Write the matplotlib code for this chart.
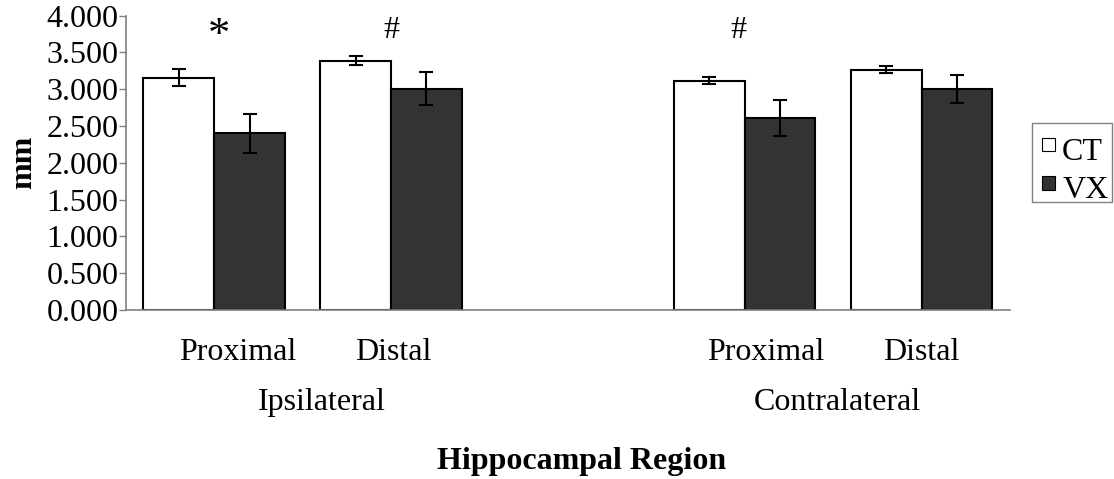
import matplotlib
matplotlib.use("Agg")
import matplotlib.pyplot as plt
from matplotlib.patches import Patch, Rectangle
from matplotlib.legend_handler import HandlerPatch
from matplotlib.transforms import blended_transform_factory
import numpy as np

# Hippocampal thickness (mm), mean and error per region
regions = ["Proximal", "Distal", "Proximal", "Distal"]
sides = ["Ipsilateral", "Contralateral"]
ct_mean = [3.16, 3.39, 3.115, 3.265]
vx_mean = [2.40, 3.01, 2.61, 3.01]
ct_err = [0.115, 0.06, 0.05, 0.05]
vx_err = [0.27, 0.22, 0.25, 0.19]
sig_marks = ["*", "#", "#", ""]
series_names = ["CT", "VX"]
yticks = [0.0, 0.5, 1.0, 1.5, 2.0, 2.5, 3.0, 3.5, 4.0]

plt.rcParams["font.family"] = ["Liberation Serif", "DejaVu Serif"]
FS = 23
W, H = 1114, 479

fig = plt.figure(figsize=(W / 100, H / 100), dpi=100)
ax = fig.add_axes([125.7 / W, 1 - 310 / H, (1010 - 125.7) / W, (310 - 15.7) / H])

# group slots: two per side, with an empty slot between the sides
x = np.array([0, 1, 3, 4], dtype=float)
w = 0.4
ax.bar(x - w / 2, ct_mean, w, color="white", edgecolor="black", linewidth=1.5, zorder=2)
ax.bar(x + w / 2, vx_mean, w, color="#333333", edgecolor="black", linewidth=1.5, zorder=2)
ekw = dict(fmt="none", ecolor="black", elinewidth=1.5, capsize=5, capthick=1.5, zorder=3)
ax.errorbar(x - w / 2, ct_mean, yerr=ct_err, **ekw)
ax.errorbar(x + w / 2, vx_mean, yerr=vx_err, **ekw)

ax.set_xlim(-0.5, 4.5)
ax.set_ylim(0, 4.0)
ax.set_yticks(yticks)
ax.set_yticklabels([f"{v:.3f}" for v in yticks], fontsize=FS)
ax.tick_params(axis="y", direction="out", length=5.3, width=1.0, color="#808080", pad=0)
ax.tick_params(axis="x", length=0, labelbottom=False)
for s in ("top", "right"):
    ax.spines[s].set_visible(False)
for s in ("left", "bottom"):
    ax.spines[s].set_color("#808080")
    ax.spines[s].set_linewidth(1.2)

ax.set_ylabel("mm", fontsize=FS, fontweight="bold", labelpad=6.2)

# significance markers above each group
mark_dx = [0.03, 0.0, -0.038, 0.0]
for xi, dx, m in zip(x, mark_dx, sig_marks):
    if m == "*":
        ax.text(xi + dx, 3.725, m, fontsize=32, ha="center", va="center")
    elif m:
        ax.text(xi + dx, 3.80, m, fontsize=FS, ha="center", va="center")

# two-level category labels
tr = blended_transform_factory(ax.transData, ax.transAxes)
region_x = [0.134, 1.011, 3.119, 3.997]
for rx, name in zip(region_x, regions):
    ax.text(rx, -0.143, name, fontsize=FS, ha="center", va="center", transform=tr)
side_x = [0.608, 3.521]
for sx, name in zip(side_x, sides):
    ax.text(sx, -0.313, name, fontsize=FS, ha="center", va="center", transform=tr)

fig.text(581.5 / W, 1 - 462 / H, "Hippocampal Region", fontsize=FS,
         fontweight="bold", ha="center", va="center")


# square legend swatches, level with the top of the capital letters
def raised_square(legend, orig_handle, xdescent, ydescent, width, height, fontsize):
    side = min(width, height)
    return Rectangle((-xdescent, -ydescent + 4.0), side, side)


handles = [Patch(facecolor="white", edgecolor="black", linewidth=0.8),
           Patch(facecolor="#333333", edgecolor="black", linewidth=0.8)]
leg = fig.legend(handles, series_names, loc="upper left",
                 bbox_to_anchor=(1041.7 / W, 1 - 138 / H), borderaxespad=0,
                 fontsize=FS, handlelength=0.42, handleheight=0.42, handletextpad=0.22,
                 borderpad=0, labelspacing=0.29, frameon=False,
                 handler_map={Patch: HandlerPatch(patch_func=raised_square)})
fig.patches.append(Rectangle((1032.3 / W, 1 - 202.3 / H), 79.4 / W, 79 / H,
                             transform=fig.transFigure, facecolor="white",
                             edgecolor="#808080", linewidth=1.0, zorder=0))

fig.savefig("out.png", dpi=100)
